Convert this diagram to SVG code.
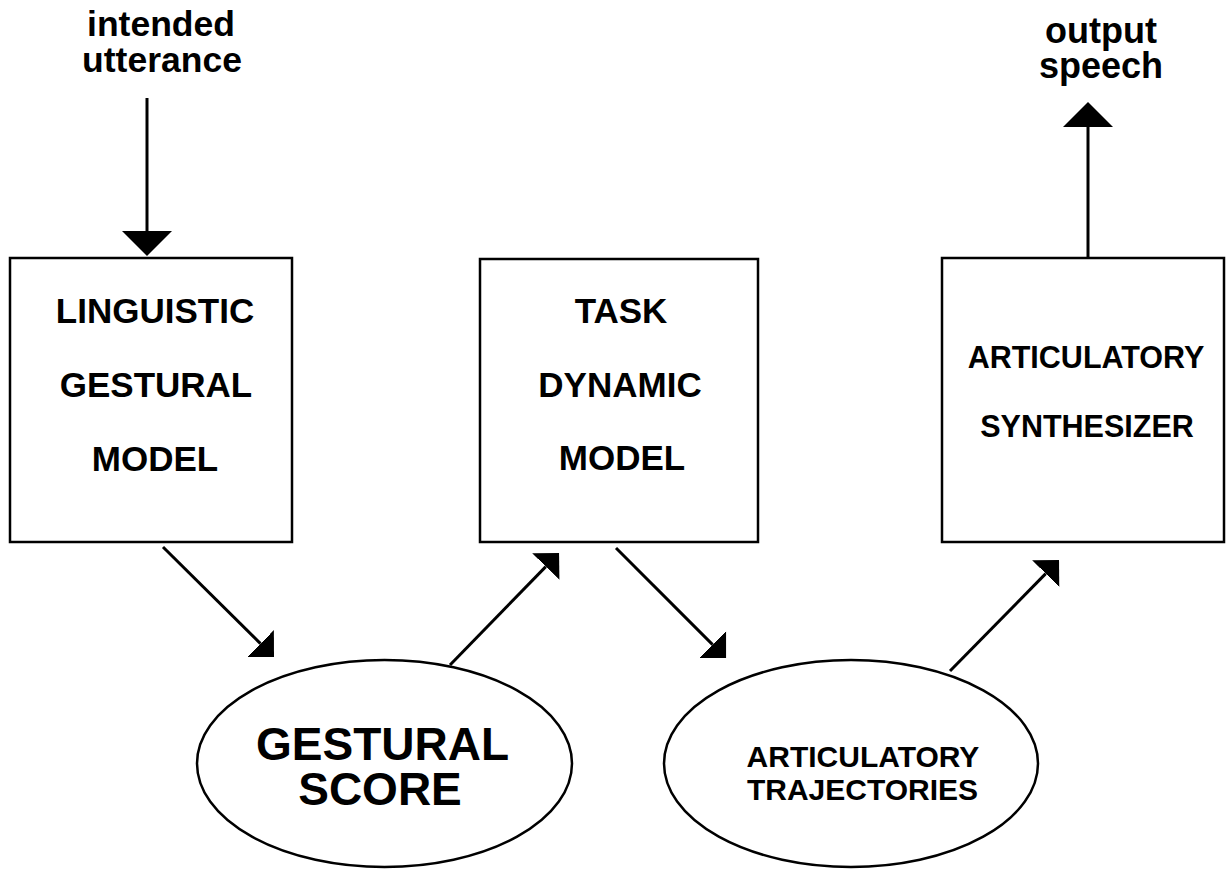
<svg xmlns="http://www.w3.org/2000/svg" width="1226" height="869" viewBox="0 0 1226 869">
  <defs>
    <style>
      .box { fill: #fff; stroke: #000; stroke-width: 2.5; }
      .ell { fill: #fff; stroke: #000; stroke-width: 2.5; }
      .lbl { font-family: "Liberation Sans", Arial, Helvetica, sans-serif; font-weight: bold; fill: #000; text-anchor: middle; }
      .conn { stroke: #000; stroke-width: 3; fill: none; }
      .head { fill: #000; stroke: none; }
    </style>
    <marker id="headD" markerUnits="userSpaceOnUse" markerWidth="20" markerHeight="40" refX="0" refY="19" orient="auto" viewBox="0 0 20 38">
      <path d="M0,0 L19,19 L0,38 Z" fill="#000"/>
    </marker>
    <marker id="headV" markerUnits="userSpaceOnUse" markerWidth="27" markerHeight="50" refX="0" refY="25" orient="auto" viewBox="0 0 27 50">
      <path d="M0,0 L25,25 L0,50 Z" fill="#000"/>
    </marker>
  </defs>
  <rect width="1226" height="869" fill="#fff"/>

  <g id="connectors">
    <line class="conn" x1="147" y1="98" x2="147" y2="231" marker-end="url(#headV)"/>
    <line class="conn" x1="1088" y1="258" x2="1088" y2="127" marker-end="url(#headV)"/>
    <line class="conn" x1="163" y1="547" x2="260.5" y2="643.6" marker-end="url(#headD)"/>
    <line class="conn" x1="450" y1="665" x2="545.8" y2="566.6" marker-end="url(#headD)"/>
    <line class="conn" x1="616" y1="548" x2="712.6" y2="644.6" marker-end="url(#headD)"/>
    <line class="conn" x1="950" y1="671" x2="1045.7" y2="573.6" marker-end="url(#headD)"/>
  </g>

  <g id="input-label">
    <text class="lbl" x="161" y="36" font-size="35.5">intended</text>
    <text class="lbl" x="162" y="72" font-size="35.5">utterance</text>
  </g>

  <g id="output-label">
    <text class="lbl" x="1101" y="43" font-size="36">output</text>
    <text class="lbl" x="1101" y="78" font-size="36">speech</text>
  </g>

  <g id="linguistic-gestural-model">
    <rect class="box" x="10" y="258" width="282" height="284"/>
    <text class="lbl" x="155" y="323" font-size="35">LINGUISTIC</text>
    <text class="lbl" x="156" y="397" font-size="35">GESTURAL</text>
    <text class="lbl" x="155" y="471" font-size="35">MODEL</text>
  </g>

  <g id="task-dynamic-model">
    <rect class="box" x="480" y="259" width="278" height="283"/>
    <text class="lbl" x="621" y="323" font-size="35">TASK</text>
    <text class="lbl" x="620" y="397" font-size="35">DYNAMIC</text>
    <text class="lbl" x="622" y="470" font-size="35">MODEL</text>
  </g>

  <g id="articulatory-synthesizer">
    <rect class="box" x="942" y="258" width="282" height="284"/>
    <text class="lbl" x="1086" y="368" font-size="30.5">ARTICULATORY</text>
    <text class="lbl" x="1087" y="437" font-size="30.5">SYNTHESIZER</text>
  </g>

  <g id="gestural-score">
    <ellipse class="ell" cx="384.5" cy="763.5" rx="187.5" ry="103.5"/>
    <text class="lbl" x="382.5" y="760" font-size="46">GESTURAL</text>
    <text class="lbl" x="380" y="805" font-size="46">SCORE</text>
  </g>

  <g id="articulatory-trajectories">
    <ellipse class="ell" cx="851" cy="763.5" rx="187" ry="103.5"/>
    <text class="lbl" x="863" y="767" font-size="30">ARTICULATORY</text>
    <text class="lbl" x="862.5" y="800" font-size="30">TRAJECTORIES</text>
  </g>
</svg>
